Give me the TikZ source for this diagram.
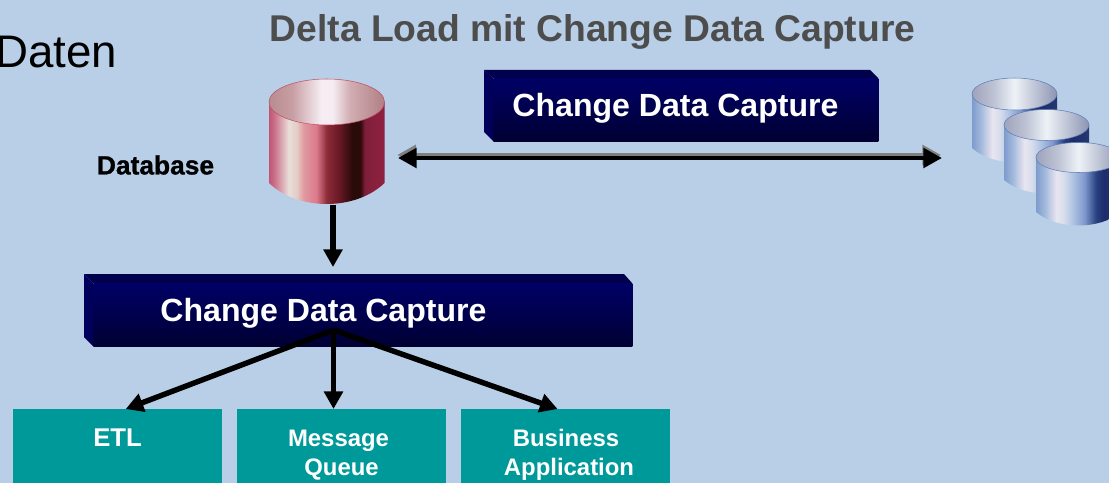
\documentclass[tikz,border=0pt]{standalone}
\usepackage{fontspec}
\setmainfont{Liberation Sans}
\newfontfamily\dbfont[BoldFeatures={FakeBold=1}]{Liberation Sans}
\usetikzlibrary{arrows.meta}
\definecolor{slidebg}{HTML}{B8CFE7}
\definecolor{navytop}{HTML}{000066}
\definecolor{navybot}{HTML}{000033}
\definecolor{navyrim}{HTML}{00004D}
\definecolor{navyside}{HTML}{00005C}
\definecolor{tealbox}{HTML}{009999}
\definecolor{titlegray}{HTML}{4D4D4D}
\definecolor{redrim}{HTML}{C05068}
\definecolor{bluerim}{HTML}{5F7FB5}
\pgfdeclarehorizontalshading{redbody}{100bp}{
  rgb(0bp)=(.75,.33,.45);
  rgb(25bp)=(.75,.33,.45);
  rgb(27.5bp)=(.80,.45,.55);
  rgb(33.5bp)=(.91,.87,.85);
  rgb(37bp)=(.90,.80,.78);
  rgb(40bp)=(.88,.60,.63);
  rgb(45.5bp)=(.86,.48,.55);
  rgb(50bp)=(.55,.17,.22);
  rgb(55bp)=(.42,.10,.15);
  rgb(61bp)=(.17,.04,.04);
  rgb(64.5bp)=(.17,.04,.04);
  rgb(66.5bp)=(.50,.12,.23);
  rgb(75bp)=(.56,.13,.25);
  rgb(100bp)=(.56,.13,.25)}
\pgfdeclarehorizontalshading{redtop}{100bp}{
  rgb(0bp)=(.72,.55,.57);
  rgb(25bp)=(.72,.55,.57);
  rgb(35bp)=(.78,.62,.64);
  rgb(47.5bp)=(.96,.93,.95);
  rgb(52.5bp)=(.96,.93,.95);
  rgb(60bp)=(.82,.68,.70);
  rgb(75bp)=(.69,.50,.52);
  rgb(100bp)=(.69,.50,.52)}
\pgfdeclarehorizontalshading{bluebody}{100bp}{
  rgb(0bp)=(.49,.61,.80);
  rgb(25bp)=(.49,.61,.80);
  rgb(30bp)=(.63,.72,.86);
  rgb(37bp)=(.91,.90,.94);
  rgb(41bp)=(.85,.87,.93);
  rgb(46.5bp)=(.69,.77,.89);
  rgb(53.5bp)=(.50,.60,.80);
  rgb(60.5bp)=(.15,.25,.50);
  rgb(65bp)=(.12,.17,.42);
  rgb(75bp)=(.14,.22,.44);
  rgb(100bp)=(.14,.22,.44)}
\pgfdeclarehorizontalshading{bluetop}{100bp}{
  rgb(0bp)=(.62,.64,.74);
  rgb(25bp)=(.62,.64,.74);
  rgb(37.5bp)=(.74,.76,.83);
  rgb(50bp)=(.93,.95,.97);
  rgb(60bp)=(.78,.80,.86);
  rgb(75bp)=(.55,.58,.70);
  rgb(100bp)=(.55,.58,.70)}
\tikzset{
  dbnode/.style={inner sep=0pt},
  cdcface/.style={anchor=north west,inner sep=0pt,top color=navytop,bottom color=navybot,minimum height=1.26cm},
  cdclabel/.style={text=white,font=\fontsize{18.25}{20}\bfseries\selectfont},
  targetbox/.style={anchor=north west,inner sep=0pt,fill=tealbox,minimum width=4.18cm,minimum height=2cm},
  targetlabel/.style={text=white,align=center,font=\fontsize{13.6}{16.4}\bfseries\selectfont},
  feedarrow/.style={line width=3.1pt,-{Triangle[length=10pt,width=10.5pt]}},
  syncline/.style={line width=1.8pt,{Triangle[length=10.5pt,width=11.3pt]}-{Triangle[length=10.5pt,width=11.3pt]}}
}
% left, right, top centre, side end, ry top, ry bottom, body, top, rim
\newcommand{\datacyl}[9]{
  \shade[shading=#7] (#1,#3) -- (#1,#4)
    .. controls (#1+.25*#2-.25*#1,#4+#6) and (#2-.25*#2+.25*#1,#4+#6) .. (#2,#4) -- (#2,#3) -- cycle;
  \shadedraw[shading=#8,draw=#9,line width=.3pt] ({(#1+#2)/2},#3) ellipse [x radius={(#2-#1)/2},y radius=#5];
}
\begin{document}
\begin{tikzpicture}[x=0.02cm,y=-0.02cm]
  \clip (0,0) rectangle (1109,483);
  \fill[slidebg] (0,0) rectangle (1109,483);

  \node[text=titlegray,font=\fontsize{21.2}{24}\bfseries\selectfont] (title) at (592.5,31.5) {Delta Load mit Change Data Capture};
  \node[font=\fontsize{26}{28}\selectfont,anchor=base west,inner sep=0pt] (daten) at (-5,68) {Daten};
  \node[font=\fontsize{15}{16}\dbfont\bfseries\selectfont] (dblabel) at (155.5,165) {Database};

  % database
  \datacyl{269}{384.5}{102}{183}{23}{28}{redbody}{redtop}{redrim}
  \node[dbnode] (db) at (333,204) {};

  % replicas
  \datacyl{972}{1057}{94}{148}{16}{19}{bluebody}{bluetop}{bluerim}
  \datacyl{1004}{1089}{125}{180}{15.5}{18}{bluebody}{bluetop}{bluerim}
  \datacyl{1036}{1121}{157.5}{212}{15}{18}{bluebody}{bluetop}{bluerim}
  \node[dbnode] (replica) at (943,158) {};
  \node[dbnode] (source) at (397,158) {};

  % upper box
  \fill[navyrim] (484,70) -- (870,70) -- (878,78) -- (493,78) -- cycle;
  \fill[navyside] (484,70) -- (493,78) -- (493,141) -- (484,132) -- cycle;
  \node[cdcface,minimum width=7.7cm] (cdctop) at (493,78) {};
  \node[cdclabel] (cdctoplabel) at (675.5,108) {Change Data Capture};

  % lower box
  \fill[navyrim] (84,274) -- (624,274) -- (632,283) -- (93,283) -- cycle;
  \fill[navyside] (84,274) -- (93,283) -- (93,346) -- (84,337) -- cycle;
  \node[cdcface,minimum width=10.78cm] (cdc) at (93,283) {};
  \node[cdclabel] (cdclabel) at (323.5,313) {Change Data Capture};

  % targets
  \node[targetbox] (etl) at (13,409) {};
  \node[targetbox] (queue) at (237,409) {};
  \node[targetbox] (appl) at (461,409) {};
  \node[targetlabel,font=\fontsize{14.6}{16.4}\bfseries\selectfont] (etllabel) at (117.5,437.5) {ETL};
  \node[targetlabel] (queuelabel) at (338.5,455.5) {Message\\\hspace*{3.4pt}Queue};
  \node[targetlabel] (appllabel) at (566,454.5) {Business\\\hspace*{3.4pt}Application};

  % connectors
  \coordinate (fan) at (333.5,330);
  \draw[syncline,gray,transform canvas={xshift=-0.5pt,yshift=1.7pt}] (source) -- (replica);
  \draw[syncline] (source) -- (replica);
  \draw[feedarrow] (db) -- (db |- 0,267);
  \draw[feedarrow] (fan) -- ([xshift=4.5pt]etl.north);
  \draw[feedarrow] (fan) -- (fan |- queue.north);
  \draw[feedarrow] (fan) -- ([xshift=-4.7pt]appl.north);
\end{tikzpicture}
\end{document}
